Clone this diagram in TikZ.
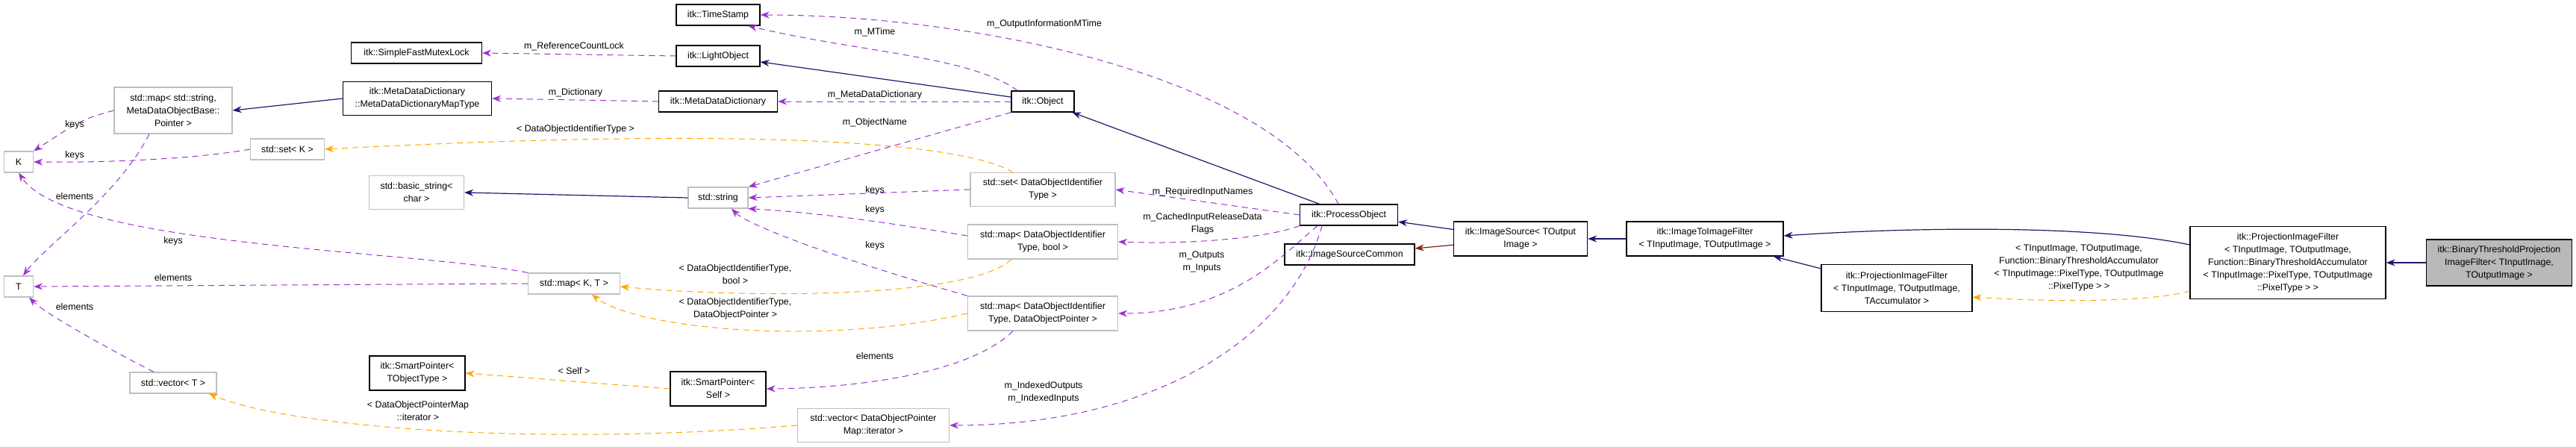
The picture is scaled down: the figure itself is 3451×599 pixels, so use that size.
\documentclass[tikz,border=0pt]{standalone}
\usepackage{fontspec}
\setmainfont{Liberation Sans}
\usetikzlibrary{arrows.meta}
\definecolor{purp}{HTML}{9A32CD}
\definecolor{orng}{HTML}{FFA500}
\definecolor{navy}{HTML}{191970}
\definecolor{fireb}{HTML}{8B1A1A}
\definecolor{gbord}{HTML}{BFBFBF}
\begin{document}
\begin{tikzpicture}[x=0.5pt,y=-0.5pt,
  every node/.style={font=\fontsize{6.2}{8.5}\selectfont, align=center, inner sep=1pt},
  bx/.style 2 args={draw, line width=0.6pt, minimum width=#1*0.5pt, minimum height=#2*0.5pt},
  dbox/.style={draw=black},
  ubox/.style={draw=gbord},
  tip/.style={-{Stealth[length=6pt,width=4.5pt]}},
  mem/.style={tip, purp, dash pattern=on 4pt off 3pt, line width=0.5pt},
  tpl/.style={tip, orng, dash pattern=on 4pt off 3pt, line width=0.5pt},
  inh/.style={tip, navy, line width=0.6pt},
  prv/.style={tip, fireb, line width=0.6pt},
  lbl/.style={inner sep=0pt}]
\useasboundingbox (0,0) rectangle (3451,599);
% nodes
\node[bx={112}{28},dbox] (ts) at (962,20) {itk::TimeStamp};
\node[bx={112}{28},dbox] (lo) at (962,75) {itk::LightObject};
\node[bx={175}{28},dbox] (sfm) at (558,71) {itk::SimpleFastMutexLock};
\node[bx={199}{45},dbox] (mapT) at (559,132) {itk::MetaDataDictionary\\::MetaDataDictionaryMapType};
\node[bx={158}{62},ubox] (mapS) at (232,148) {std::map\textless{} std::string,\\ MetaDataObjectBase::\\Pointer \textgreater{}};
\node[bx={99}{28},ubox] (setK) at (385,200) {std::set\textless{} K \textgreater{}};
\node[bx={39}{28},ubox] (K) at (25,217) {K};
\node[bx={127}{45},ubox] (bstr) at (558,258) {std::basic\_string\textless{}\\ char \textgreater{}};
\node[bx={39}{28},ubox] (T) at (25,384) {T};
\node[bx={123}{28},ubox] (mkt) at (769,380) {std::map\textless{} K, T \textgreater{}};
\node[bx={116}{28},ubox] (vecT) at (232,513) {std::vector\textless{} T \textgreater{}};
\node[bx={128}{46},dbox] (spT) at (559,500) {itk::SmartPointer\textless{}\\ TObjectType \textgreater{}};
\node[bx={159}{28},dbox] (mdd) at (962,136) {itk::MetaDataDictionary};
\node[bx={84}{28},dbox] (obj) at (1397,136) {itk::Object};
\node[bx={80}{28},ubox] (str) at (962,265) {std::string};
\node[bx={194}{45},ubox] (sdo) at (1397,254) {std::set\textless{} DataObjectIdentifier\\Type \textgreater{}};
\node[bx={131}{28},dbox] (po) at (1807,288) {itk::ProcessObject};
\node[bx={201}{46},ubox] (mdb) at (1397,324) {std::map\textless{} DataObjectIdentifier\\Type, bool \textgreater{}};
\node[bx={201}{46},ubox] (mdp) at (1397,420) {std::map\textless{} DataObjectIdentifier\\Type, DataObjectPointer \textgreater{}};
\node[bx={174}{28},dbox] (isc) at (1808,341) {itk::ImageSourceCommon};
\node[bx={128}{46},dbox] (spS) at (962,521) {itk::SmartPointer\textless{}\\ Self \textgreater{}};
\node[bx={203}{45},ubox] (vdp) at (1170,570) {std::vector\textless{} DataObjectPointer\\Map::iterator \textgreater{}};
\node[bx={179}{46},dbox] (is) at (2037,320) {itk::ImageSource\textless{} TOutput\\Image \textgreater{}};
\node[bx={210}{46},dbox] (itf) at (2284,320) {itk::ImageToImageFilter\\\textless{} TInputImage, TOutputImage \textgreater{}};
\node[bx={202}{63},dbox] (pifA) at (2541,386) {itk::ProjectionImageFilter\\\textless{} TInputImage, TOutputImage,\\ TAccumulator \textgreater{}};
\node[bx={262}{97},dbox] (pifB) at (3065,352) {itk::ProjectionImageFilter\\\textless{} TInputImage, TOutputImage,\\ Function::BinaryThresholdAccumulator\\\textless{} TInputImage::PixelType, TOutputImage\\::PixelType \textgreater{} \textgreater{}};
\node[bx={195}{62},dbox,fill=gray!55] (bt) at (3348,352) {itk::BinaryThresholdProjection\\ImageFilter\textless{} TInputImage,\\ TOutputImage \textgreater{}};
% connectors
\draw[inh] (obj) -- (lo);
\draw[mem] (lo.west) -- (sfm.east);
\draw[mem] ([xshift=-17pt]obj.north) .. controls (1300,75) and (1150,70) .. (ts.-20);
\draw[mem] ([xshift=-7pt]po.north) .. controls (1700,100) and (1300,20) .. (ts.east);
\draw[mem] (obj.west) -- (mdd.east);
\draw[mem] (mdd.west) -- (mapT.east);
\draw[inh] (mapT.west) -- (mapS.east);
\draw[mem] (mapS.west) .. controls (110,160) .. (K.north east);
\draw[mem] ([xshift=-16pt]mapS.south) .. controls (160,260) and (60,330) .. ([xshift=3pt]T.north);
\draw[mem] (setK.west) .. controls (250,215) and (120,218) .. (K.east);
\draw[tpl] ([xshift=-20pt]sdo.north) .. controls (1290,190) and (1000,170) .. (setK.east);
\draw[mem] (obj.south west) -- (str.north east);
\draw[inh] (str.west) -- (bstr.east);
\draw[mem] (sdo.west) -- (str.east);
\draw[mem] ([yshift=4pt]mdb.west) .. controls (1200,300) and (1100,285) .. (str.-20);
\draw[mem] (mdp.north west) .. controls (1100,340) and (1000,300) .. ([xshift=9pt]str.south);
\draw[mem] (po.west) -- (sdo.east);
\draw[mem] (po.south west) .. controls (1700,318) and (1600,328) .. (mdb.east);
\draw[mem] ([xshift=-21pt]po.south) .. controls (1720,340) and (1650,420) .. (mdp.east);
\draw[mem] ([xshift=-18pt]po.south) .. controls (1730,450) and (1550,570) .. (vdp.east);
\draw[tpl] ([xshift=-21pt]mdb.south) .. controls (1300,400) and (1000,400) .. ([yshift=-2pt]mkt.east);
\draw[tpl] (mdp.west) .. controls (1100,465) and (850,440) .. ([xshift=12pt]mkt.south);
\draw[mem] (mkt.north west) .. controls (550,335) and (90,330) .. (K.south);
\draw[mem] (mkt.west) -- (T.east);
\draw[mem] ([xshift=-13pt]vecT.north) .. controls (150,470) and (60,420) .. ([xshift=7pt]T.south);
\draw[mem] ([xshift=-20pt]mdp.south) .. controls (1300,500) and (1150,520) .. (spS.east);
\draw[tpl] (spS.west) -- (spT.east);
\draw[tpl] (vdp.west) .. controls (700,600) and (380,570) .. ([xshift=24pt]vecT.south);
\draw[inh] (po) -- (obj);
\draw[inh] (is) -- (po);
\draw[prv] (is) -- (isc);
\draw[inh] (itf.west) -- (is.east);
\draw[inh] (pifA) -- (itf);
\draw[inh] ([yshift=12pt]pifB.west) .. controls (2800,300) and (2550,305) .. ([yshift=2pt]itf.east);
\draw[tpl] ([yshift=-19pt]pifB.west) .. controls (2880,405) and (2750,405) .. ([yshift=-6pt]pifA.east);
\draw[inh] (bt.west) -- (pifB.east);
% labels
\node[lbl] (l1) at (769,62) {m\_ReferenceCountLock};
\node[lbl] (l2) at (1172,43) {m\_MTime};
\node[lbl] (l3) at (1399,32) {m\_OutputInformationMTime};
\node[lbl] (l4) at (1172,127) {m\_MetaDataDictionary};
\node[lbl] (l5) at (771,124) {m\_Dictionary};
\node[lbl] (l6) at (100,167) {keys};
\node[lbl] (l7) at (100,263) {elements};
\node[lbl] (l8) at (100,208) {keys};
\node[lbl] (l9) at (771,173) {\textless{} DataObjectIdentifierType \textgreater{}};
\node[lbl] (l10) at (1172,164) {m\_ObjectName};
\node[lbl] (l11) at (1172,255) {keys};
\node[lbl] (l12) at (1172,281) {keys};
\node[lbl] (l13) at (1172,329) {keys};
\node[lbl] (l14) at (1611,257) {m\_RequiredInputNames};
\node[lbl] (l15) at (1611,300) {m\_CachedInputReleaseData\\Flags};
\node[lbl] (l16) at (1610,351) {m\_Outputs\\m\_Inputs};
\node[lbl] (l17) at (1398,526) {m\_IndexedOutputs\\m\_IndexedInputs};
\node[lbl] (l18) at (985,368) {\textless{} DataObjectIdentifierType,\\bool \textgreater{}};
\node[lbl] (l19) at (985,414) {\textless{} DataObjectIdentifierType,\\DataObjectPointer \textgreater{}};
\node[lbl] (l20) at (232,323) {keys};
\node[lbl] (l21) at (232,372) {elements};
\node[lbl] (l22) at (100,411) {elements};
\node[lbl] (l23) at (1172,477) {elements};
\node[lbl] (l24) at (769,497) {\textless{} Self \textgreater{}};
\node[lbl] (l25) at (560,551) {\textless{} DataObjectPointerMap\\::iterator \textgreater{}};
\node[lbl] (l26) at (2785,359) {\textless{} TInputImage, TOutputImage,\\Function::BinaryThresholdAccumulator\\\textless{} TInputImage::PixelType, TOutputImage\\::PixelType \textgreater{} \textgreater{}};
\end{tikzpicture}
\end{document}
